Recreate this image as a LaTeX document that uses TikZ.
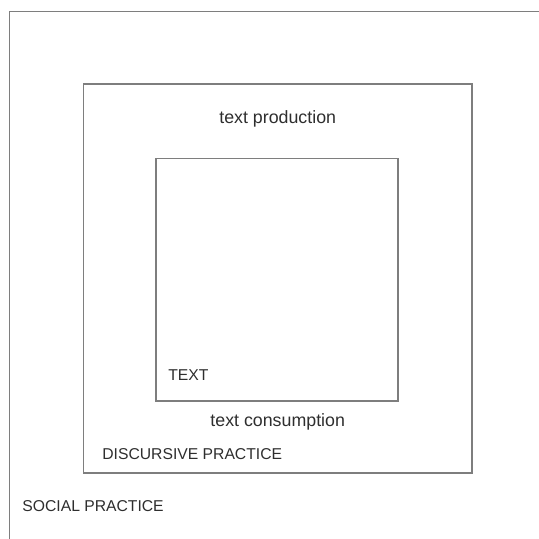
\documentclass[tikz,border=0pt]{standalone}
\usepackage{fontspec}
\setmainfont{Liberation Sans}
\definecolor{boxgray}{HTML}{7E7E7E}
\definecolor{labelgray}{HTML}{2E2E2E}
\begin{document}
\begin{tikzpicture}[
    x=0.5pt, y=-0.5pt,
    box/.style={draw=boxgray, line width=0.8pt, rectangle, inner sep=0pt},
    caps/.style={inner sep=0pt, text=labelgray, font=\fontsize{7.85}{9}\selectfont},
    lower/.style={inner sep=0pt, text=labelgray, font=\fontsize{8.9}{10}\selectfont}
    ]
    \useasboundingbox (0, 0) rectangle (539, 538);
    \clip (0, 0) rectangle (539, 538);

    \node[box, minimum width=295.2pt, minimum height=294.35pt] (social) at (304.8, 305.65) {};
    \node[box, minimum width=194.25pt, minimum height=194.5pt] (discursive) at (277.75, 278.5) {};
    \node[box, minimum width=121.15pt, minimum height=121.15pt] (text) at (276.85, 279.55) {};

    \node[lower, anchor=base] (production) at (277.7, 123.3) {text production};
    \node[lower, anchor=base] (consumption) at (277.7, 426.7) {text consumption};

    \node[caps, anchor=base west] (textlabel) at (168, 380) {TEXT};
    \node[caps, anchor=base west] (discursivelabel) at (102, 459.5) {DISCURSIVE PRACTICE};
    \node[caps, anchor=base west] (sociallabel) at (22, 511) {SOCIAL PRACTICE};

  \end{tikzpicture}
\end{document}
